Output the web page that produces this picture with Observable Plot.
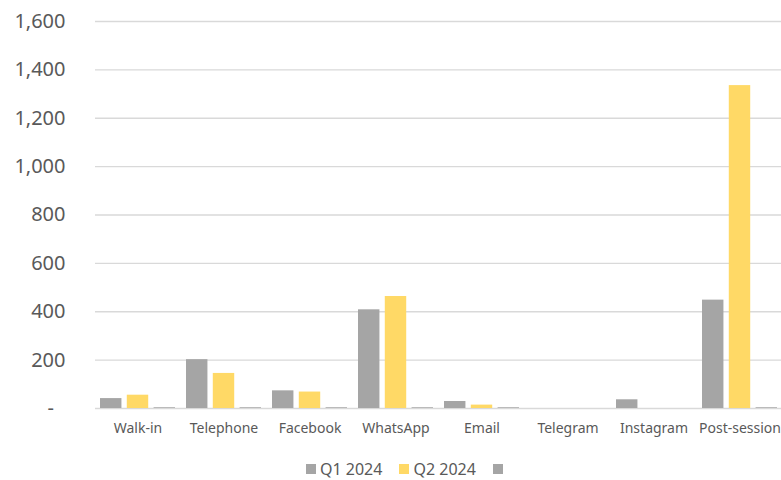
<!DOCTYPE html>
<html>
<head>
<meta charset="utf-8">
<script src="https://cdn.jsdelivr.net/npm/d3@7"></script>
<script src="https://cdn.jsdelivr.net/npm/@observablehq/plot@0.6"></script>
<style>
  html, body { margin: 0; padding: 0; background: #fff; }
  #wrap { position: relative; width: 781px; height: 480px; overflow: hidden; font-family: "Noto Sans", sans-serif; }
  #legend { position: absolute; left: 306px; top: 460px; display: flex; align-items: center; font-size: 16px; line-height: 18px; color: #595959; }
  .item { display: flex; align-items: center; margin-right: 17px; }
  .sw { width: 10px; height: 10px; margin-right: 4px; }
</style>
</head>
<body>
<div id="wrap"></div>
<script>
const categories = ["Walk-in", "Telephone", "Facebook", "WhatsApp", "Email", "Telegram", "Instagram", "Post-session"];
const q1Values = [41, 202, 73, 408, 29, 0, 36, 448];
const q2Values = [55, 145, 68, 463, 14, 0, 0, 1335];
const s3Values = [3, 3, 3, 3, 3, 0, 0, 3];
const seriesNames = ["Q1 2024", "Q2 2024", ""];
const seriesColors = ["#A5A5A5", "#FFD966", "#A5A5A5"];
const yTicks = [0, 200, 400, 600, 800, 1000, 1200, 1400, 1600];

const seriesValues = [q1Values, q2Values, s3Values];
const rows = [];
seriesValues.forEach((vals, s) => categories.forEach((c, i) => rows.push({category: c, series: s, value: vals[i]})));

const width = 781, marginLeft = 95, marginRight = 0;
const paddingInner = 0.131, paddingOuter = 0.04;
const step = (width - marginLeft - marginRight) / (categories.length - paddingInner + 2 * paddingOuter);
const bandwidth = step * (1 - paddingInner);
const subStep = bandwidth / (3 - 0.2);
const barW = subStep * 0.8;

const barMarks = seriesValues.map((_, s) => Plot.barY(rows.filter(d => d.series === s), {
  x: "category",
  y: "value",
  fill: seriesColors[s],
  insetLeft: s * subStep,
  insetRight: bandwidth - s * subStep - barW
}));

const fmt = d3.format(",");
const chart = Plot.plot({
  width,
  height: 480,
  marginLeft,
  marginRight,
  marginTop: 21,
  marginBottom: 72,
  style: {fontFamily: "'Noto Sans', sans-serif", background: "#fff"},
  x: {domain: categories, paddingInner, paddingOuter, label: null},
  y: {domain: [0, 1600], label: null},
  marks: [
    Plot.ruleY(yTicks, {stroke: "#D9D9D9", strokeWidth: 1.4}),
    ...barMarks,
    Plot.axisY(yTicks, {tickSize: 0, tickPadding: 30, fontSize: 20, fill: "#595959", tickFormat: d => d === 0 ? "-\u2007" : fmt(d), label: null}),
    Plot.axisX({tickSize: 0, tickPadding: 15, fontSize: 14, fill: "#595959", label: null})
  ]
});
const wrap = document.getElementById("wrap");
wrap.appendChild(chart);

const legend = document.createElement("div");
legend.id = "legend";
seriesNames.forEach((name, i) => {
  const item = document.createElement("div");
  item.className = "item";
  const sw = document.createElement("span");
  sw.className = "sw";
  sw.style.background = seriesColors[i];
  item.appendChild(sw);
  if (name) {
    const t = document.createElement("span");
    t.textContent = name;
    item.appendChild(t);
  }
  legend.appendChild(item);
});
wrap.appendChild(legend);
</script>
</body>
</html>
